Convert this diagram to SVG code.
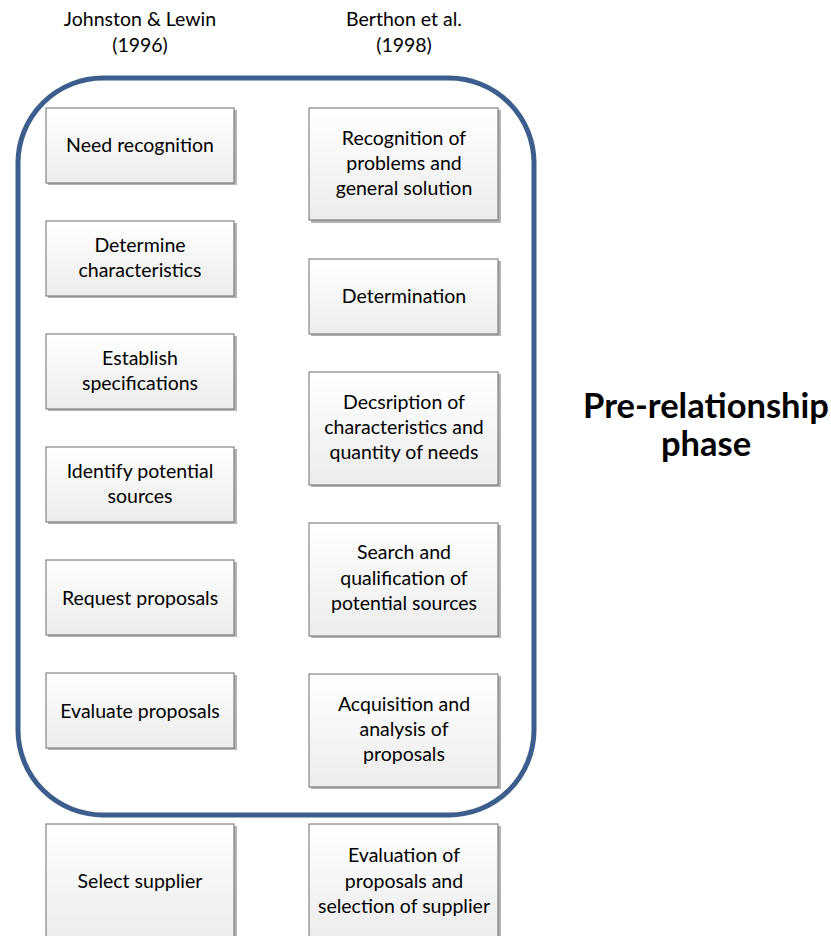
<svg xmlns="http://www.w3.org/2000/svg" width="831" height="936" viewBox="0 0 831 936">
  <style>
    .box { fill: url(#boxfill); stroke: #6e6e6e; stroke-width: 1; }
    .shadow { fill: #b4b4b4; }
    .lbl { font-family: Lato, "Open Sans", "Liberation Sans", sans-serif; font-size: 19.5px; fill: #000; text-anchor: middle; }
    .head { font-family: Lato, "Open Sans", "Liberation Sans", sans-serif; font-size: 19.5px; fill: #000; text-anchor: middle; }
    .phase { font-family: Lato, "Open Sans", "Liberation Sans", sans-serif; font-size: 34.5px; font-weight: bold; fill: #000; text-anchor: middle; }
  </style>
  <defs>
    <linearGradient id="boxfill" x1="0" y1="0" x2="0" y2="1">
      <stop offset="0" stop-color="#ffffff"/>
      <stop offset="1" stop-color="#ececec"/>
    </linearGradient>
  </defs>
  <rect width="831" height="936" fill="#ffffff"/>

  <!-- column headings -->
  <g id="head-left">
    <text class="head" x="140" y="26">Johnston &amp; Lewin</text>
    <text class="head" x="140" y="52">(1996)</text>
  </g>
  <g id="head-right">
    <text class="head" x="404" y="26">Berthon et al.</text>
    <text class="head" x="404" y="52">(1998)</text>
  </g>

  <!-- pre-relationship grouping frame -->
  <g id="phase-frame">
    <rect x="18" y="78" width="516" height="737" rx="85" ry="85" fill="none" stroke="#3b5e8c" stroke-width="5"/>
  </g>
  <g id="phase-label">
    <text class="phase" x="706" y="418">Pre-relationship</text>
    <text class="phase" x="706" y="456">phase</text>
  </g>

  <!-- left column: Johnston & Lewin -->
  <g id="l1"><rect class="shadow" x="48" y="110" width="189" height="75"/><rect class="box" x="46" y="108" width="188" height="75"/><text class="lbl" x="140" y="152">Need recognition</text></g>
  <g id="l2"><rect class="shadow" x="48" y="223" width="189" height="75"/><rect class="box" x="46" y="221" width="188" height="75"/><text class="lbl" x="140" y="252">Determine</text><text class="lbl" x="140" y="277">characteristics</text></g>
  <g id="l3"><rect class="shadow" x="48" y="336" width="189" height="75"/><rect class="box" x="46" y="334" width="188" height="75"/><text class="lbl" x="140" y="365">Establish</text><text class="lbl" x="140" y="390">specifications</text></g>
  <g id="l4"><rect class="shadow" x="48" y="449" width="189" height="75"/><rect class="box" x="46" y="447" width="188" height="75"/><text class="lbl" x="140" y="478">Identify potential</text><text class="lbl" x="140" y="503">sources</text></g>
  <g id="l5"><rect class="shadow" x="48" y="562" width="189" height="75"/><rect class="box" x="46" y="560" width="188" height="75"/><text class="lbl" x="140" y="605">Request proposals</text></g>
  <g id="l6"><rect class="shadow" x="48" y="675" width="189" height="75"/><rect class="box" x="46" y="673" width="188" height="75"/><text class="lbl" x="140" y="718">Evaluate proposals</text></g>
  <g id="l7"><rect class="shadow" x="48" y="826" width="189" height="115"/><rect class="box" x="46" y="824" width="188" height="115"/><text class="lbl" x="140" y="888">Select supplier</text></g>

  <!-- right column: Berthon et al. -->
  <g id="r1"><rect class="shadow" x="311" y="110" width="190" height="113"/><rect class="box" x="309" y="108" width="189" height="112"/><text class="lbl" x="404" y="145">Recognition of</text><text class="lbl" x="404" y="170">problems and</text><text class="lbl" x="404" y="195">general solution</text></g>
  <g id="r2"><rect class="shadow" x="311" y="261" width="190" height="75"/><rect class="box" x="309" y="259" width="189" height="75"/><text class="lbl" x="404" y="303">Determination</text></g>
  <g id="r3"><rect class="shadow" x="311" y="374" width="190" height="113"/><rect class="box" x="309" y="372" width="189" height="113"/><text class="lbl" x="404" y="409">Decsription of</text><text class="lbl" x="404" y="434">characteristics and</text><text class="lbl" x="404" y="459">quantity of needs</text></g>
  <g id="r4"><rect class="shadow" x="311" y="525" width="190" height="113"/><rect class="box" x="309" y="523" width="189" height="113"/><text class="lbl" x="404" y="559">Search and</text><text class="lbl" x="404" y="585">qualification of</text><text class="lbl" x="404" y="610">potential sources</text></g>
  <g id="r5"><rect class="shadow" x="311" y="676" width="190" height="113"/><rect class="box" x="309" y="674" width="189" height="113"/><text class="lbl" x="404" y="711">Acquisition and</text><text class="lbl" x="404" y="736">analysis of</text><text class="lbl" x="404" y="761">proposals</text></g>
  <g id="r6"><rect class="shadow" x="311" y="826" width="190" height="115"/><rect class="box" x="309" y="824" width="189" height="115"/><text class="lbl" x="404" y="862">Evaluation of</text><text class="lbl" x="404" y="888">proposals and</text><text class="lbl" x="404" y="913">selection of supplier</text></g>

  <!-- no connectors between the steps -->
  <g id="connectors"/>
</svg>
